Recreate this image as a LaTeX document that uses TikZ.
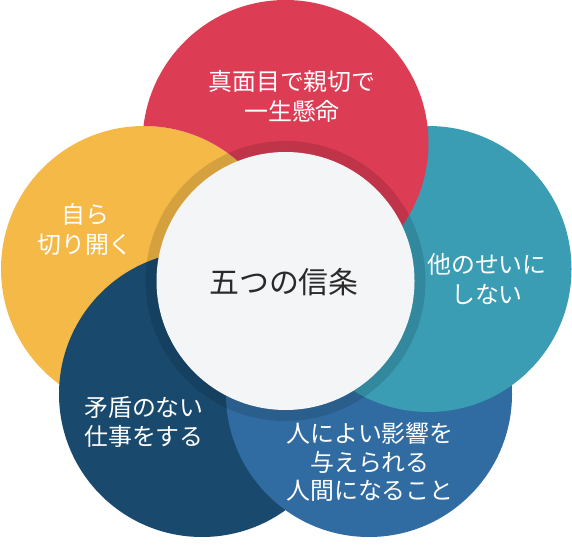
\documentclass[tikz,border=0pt]{standalone}
\usepackage{fontspec}
\setmainfont{Noto Sans CJK JP}
\definecolor{petalred}{HTML}{DD3C55}
\definecolor{petalteal}{HTML}{3A9DB4}
\definecolor{petalblue}{HTML}{306CA2}
\definecolor{petalnavy}{HTML}{194A6E}
\definecolor{petalyellow}{HTML}{F5B948}
\definecolor{hubfill}{HTML}{F4F5F7}
\definecolor{hubink}{HTML}{2A2A2A}
\tikzset{
  petal text/.style={font=\fontsize{24}{30}\selectfont, text=white, align=center},
}

\begin{document}
\begin{tikzpicture}[x=1bp, y=-1bp]
\useasboundingbox (0,0) rectangle (572,549);
% Five petals: each one lies over its clockwise neighbour, so the red
% petal is cut away where the yellow one sits, to close the ring.
\fill[petalyellow] (144,269) circle[radius=143];
\fill[petalnavy] (202,394) circle[radius=143];
\fill[petalblue] (369,394) circle[radius=143];
\fill[petalteal] (428.5,269) circle[radius=143];
\begin{scope}[even odd rule]
\clip (0,0) rectangle (572,549) (144,269) circle[radius=143];
\fill[petalred] (285.5,143) circle[radius=143];
\end{scope}

% Hub with its darkened rim.
\fill[black, opacity=0.13] (285.5,281) circle[radius=140];
\fill[hubfill] (285.5,281) circle[radius=129];

\node[petal text] (sincere) at (292,96) {真面目で親切で\\一生懸命};
\node[petal text] (blameless) at (487,279) {他のせいに\\しない};
\node[petal text, font=\fontsize{24}{29}\selectfont] (influence) at (370,462)
  {人によい影響を\\与えられる\\人間になること};
\node[petal text] (consistent) at (144,422) {矛盾のない\\仕事をする};
\node[petal text] (pioneer) at (85,229) {自ら\\切り開く};
\node[font=\fontsize{30}{36}\selectfont, text=hubink] (creed) at (284,282)
  {五つの信条};
\end{tikzpicture}
\end{document}
